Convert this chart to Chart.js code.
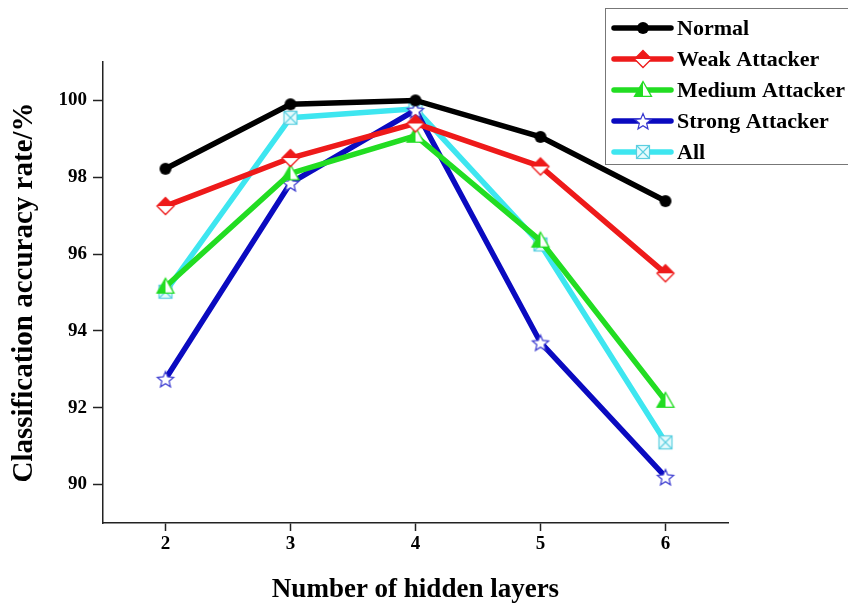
<!DOCTYPE html>
<html>
<head>
<meta charset="utf-8">
<script src="https://cdn.jsdelivr.net/npm/chart.js@4"></script>
<style>
  html, body { margin: 0; padding: 0; background: #fff; }
  canvas { display: block; }
</style>
</head>
<body>
<canvas id="chart" width="848" height="607"></canvas>
<script>
// values
const layers = ['2', '3', '4', '5', '6'];
const normal = [98.22, 99.9, 100.0, 99.05, 97.38];
const weak = [97.25, 98.5, 99.4, 98.28, 95.5];
const medium = [95.15, 98.1, 99.08, 96.35, 92.18];
const strong = [92.75, 97.85, 99.75, 93.7, 90.2];
const all = [95.02, 99.55, 99.78, 96.25, 91.1];
const yTickValues = [90, 92, 94, 96, 98, 100];

const serif = "'Liberation Serif', 'Times New Roman', serif";

// little canvases used as point markers
function marker(kind, color) {
    const c = document.createElement('canvas');
    c.width = 22;
    c.height = 22;
    const ctx = c.getContext('2d');
    ctx.translate(11, 11);
    ctx.lineJoin = 'miter';
    if (kind === 'circle') {
        ctx.fillStyle = color;
        ctx.beginPath();
        ctx.arc(0, 0, 6, 0, Math.PI * 2);
        ctx.fill();
    } else if (kind === 'diamond') {
        const h = 8.5;
        ctx.fillStyle = '#fff';
        ctx.beginPath();
        ctx.moveTo(0, -h); ctx.lineTo(h, 0); ctx.lineTo(0, h); ctx.lineTo(-h, 0); ctx.closePath();
        ctx.fill();
        ctx.fillStyle = color;
        ctx.beginPath();
        ctx.moveTo(0, -h); ctx.lineTo(h, 0); ctx.lineTo(-h, 0); ctx.closePath();
        ctx.fill();
        ctx.strokeStyle = color;
        ctx.lineWidth = 1.3;
        ctx.beginPath();
        ctx.moveTo(0, -h); ctx.lineTo(h, 0); ctx.lineTo(0, h); ctx.lineTo(-h, 0); ctx.closePath();
        ctx.stroke();
    } else if (kind === 'triangle') {
        const h = 8.5;
        ctx.fillStyle = '#fff';
        ctx.beginPath();
        ctx.moveTo(0, -h); ctx.lineTo(h, h * 0.75); ctx.lineTo(-h, h * 0.75); ctx.closePath();
        ctx.fill();
        ctx.fillStyle = color;
        ctx.beginPath();
        ctx.moveTo(0, -h); ctx.lineTo(0, h * 0.75); ctx.lineTo(-h, h * 0.75); ctx.closePath();
        ctx.fill();
        ctx.strokeStyle = color;
        ctx.lineWidth = 1.3;
        ctx.beginPath();
        ctx.moveTo(0, -h); ctx.lineTo(h, h * 0.75); ctx.lineTo(-h, h * 0.75); ctx.closePath();
        ctx.stroke();
    } else if (kind === 'star') {
        const R = 8.5, r = 3.8;
        ctx.fillStyle = '#fff';
        ctx.strokeStyle = color;
        ctx.lineWidth = 1.2;
        ctx.beginPath();
        for (let i = 0; i < 10; i++) {
            const a = -Math.PI / 2 + i * Math.PI / 5;
            const rad = i % 2 === 0 ? R : r;
            ctx.lineTo(Math.cos(a) * rad, Math.sin(a) * rad + 1);
        }
        ctx.closePath();
        ctx.fill();
        ctx.stroke();
    } else if (kind === 'squarex') {
        const s = 6.5;
        ctx.fillStyle = '#e6fbfd';
        ctx.fillRect(-s, -s, 2 * s, 2 * s);
        ctx.strokeStyle = color;
        ctx.lineWidth = 1.2;
        ctx.strokeRect(-s, -s, 2 * s, 2 * s);
        ctx.beginPath();
        ctx.moveTo(-s, -s); ctx.lineTo(s, s);
        ctx.moveTo(s, -s); ctx.lineTo(-s, s);
        ctx.stroke();
    }
    return c;
}

const colors = {
    normal: '#000000',
    weak: '#ee1a1a',
    medium: '#22dd22',
    strong: '#0a0ac0',
    all: '#3ee6f0'
};

function series(label, values, color, kind, markColor) {
    return {
        label: label,
        data: values,
        borderColor: color,
        backgroundColor: color,
        borderWidth: 5.5,
        pointStyle: marker(kind, markColor || color),
        pointRadius: 8,
        tension: 0
    };
}

// box legend in the top right corner, line with marker in the middle
const boxLegend = {
    id: 'boxLegend',
    afterDraw(chart) {
        const ctx = chart.ctx;
        const x0 = 605, y0 = 8, w = 260, h = 156;
        ctx.save();
        ctx.fillStyle = '#fff';
        ctx.fillRect(x0, y0, w, h);
        ctx.strokeStyle = '#777';
        ctx.lineWidth = 1;
        ctx.strokeRect(x0 + 0.5, y0 + 0.5, w, h);
        ctx.font = 'bold 22px ' + serif;
        ctx.textBaseline = 'middle';
        chart.data.datasets.forEach((ds, i) => {
            const y = 28 + i * 31;
            ctx.strokeStyle = ds.borderColor;
            ctx.lineWidth = 5.5;
            ctx.lineCap = 'round';
            ctx.beginPath();
            ctx.moveTo(614, y);
            ctx.lineTo(671, y);
            ctx.stroke();
            const img = ds.pointStyle;
            ctx.drawImage(img, 643 - img.width / 2, y - img.height / 2);
            ctx.fillStyle = '#000';
            ctx.fillText(ds.label, 677, y + 1);
        });
        ctx.restore();
    }
};

new Chart(document.getElementById('chart'), {
    type: 'line',
    data: {
        labels: layers,
        datasets: [
            series('Normal', normal, colors.normal, 'circle'),
            series('Weak Attacker', weak, colors.weak, 'diamond'),
            series('Medium Attacker', medium, colors.medium, 'triangle'),
            series('Strong Attacker', strong, colors.strong, 'star', '#3a3ad0'),
            series('All', all, colors.all, 'squarex', '#5ccfe0')
        ]
    },
    options: {
        responsive: false,
        animation: false,
        layout: {
            padding: { left: 0, top: 62, right: 120, bottom: 0 }
        },
        plugins: {
            legend: { display: false },
            tooltip: { enabled: false }
        },
        scales: {
            x: {
                offset: true,
                afterFit: (scale) => { scale.height = 84; },
                border: { display: true, color: '#222', width: 1.5 },
                grid: {
                    display: true,
                    drawOnChartArea: false,
                    drawTicks: true,
                    tickLength: 8,
                    tickColor: '#222',
                    tickWidth: 1.5,
                    offset: false
                },
                ticks: {
                    color: '#000',
                    padding: 2,
                    font: { family: serif, size: 19, weight: 'bold' }
                },
                title: {
                    display: true,
                    text: 'Number of hidden layers',
                    color: '#000',
                    padding: { top: 0, bottom: 1 },
                    font: { family: serif, size: 27, weight: 'bold' }
                }
            },
            y: {
                min: 89,
                max: 101,
                afterFit: (scale) => { scale.width = 103; },
                afterBuildTicks: (scale) => {
                    scale.ticks = yTickValues.map(v => ({ value: v }));
                },
                border: { display: true, color: '#222', width: 1.5 },
                grid: {
                    display: true,
                    drawOnChartArea: false,
                    drawTicks: true,
                    tickLength: 10,
                    tickColor: '#222',
                    tickWidth: 1.5
                },
                ticks: {
                    color: '#000',
                    padding: 6,
                    font: { family: serif, size: 19, weight: 'bold' }
                },
                title: {
                    display: true,
                    text: 'Classification accuracy rate/%',
                    color: '#000',
                    padding: { top: 7, bottom: 0 },
                    font: { family: serif, size: 29, weight: 'bold' }
                }
            }
        }
    },
    plugins: [boxLegend]
});
</script>
</body>
</html>
